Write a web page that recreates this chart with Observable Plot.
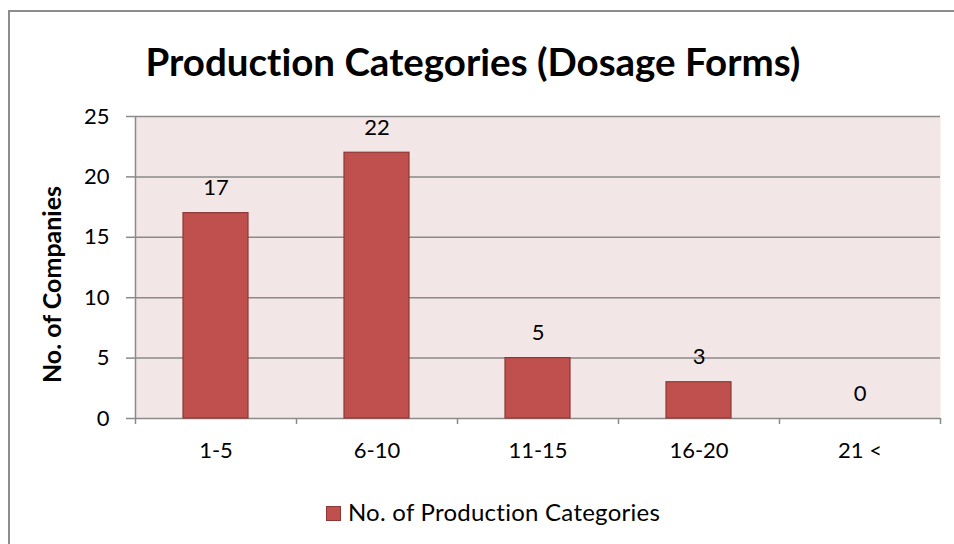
<!DOCTYPE html>
<html>
<head>
<meta charset="utf-8">
<script src="https://cdn.jsdelivr.net/npm/d3@7"></script>
<script src="https://cdn.jsdelivr.net/npm/@observablehq/plot@0.6"></script>
<style>
  html, body { margin: 0; padding: 0; background: #fff; }
  #frame {
    position: relative; width: 954px; height: 544px; overflow: hidden;
    font-family: Lato, "Open Sans", sans-serif; color: #000;
    font-variant-ligatures: none;
  }
  #border {
    position: absolute; left: 8px; top: 10px; width: 1000px; height: 600px;
    border: 2px solid #8c8c8c; box-sizing: border-box;
  }
  #title {
    position: absolute; left: -4px; top: 38px; width: 954px; text-align: center;
    font-size: 38.5px; font-weight: bold; line-height: 46px;
  }
  #chart { position: absolute; left: 0; top: 100px; }
  #chart svg { font-variant-ligatures: none; }
  #legend {
    position: absolute; left: 16px; top: 498px; width: 954px; text-align: center;
    font-size: 24px; letter-spacing: 0.25px; line-height: 28px;
  }
  #legend .swatch {
    display: inline-block; width: 13px; height: 13px; background: #c0504d;
    border: 1px solid #8c3836; vertical-align: 0px; margin-right: 7px;
  }
</style>
</head>
<body>
<div id="frame">
  <div id="border"></div>
  <div id="title">Production Categories (Dosage Forms)</div>
  <div id="chart"></div>
  <div id="legend"><span class="swatch"></span>No. of Production Categories</div>
</div>
<script>
// Number of companies by how many dosage-form production categories they run
const categories = ["1-5", "6-10", "11-15", "16-20", "21 <"];
const companies = [17, 22, 5, 3, 0];
const yTicks = [0, 5, 10, 15, 20, 25];
const yTitle = "No. of Companies";

const data = categories.map((c, i) => ({category: c, count: companies[i]}));

const width = 954;
const marginLeft = 135;
const marginRight = 14;
const half = (width - marginLeft - marginRight) / categories.length / 2;
const axisColor = "#8a8a8a";
const fs = 22;

const plot = Plot.plot({
  width,
  height: 360,
  marginTop: 16,
  marginBottom: 42,
  marginLeft,
  marginRight,
  style: {fontFamily: "Lato, 'Open Sans', sans-serif", fontSize: `${fs}px`, color: "#000", overflow: "visible"},
  x: {domain: categories, padding: 0, label: null},
  y: {domain: [0, 25], label: null},
  marks: [
    Plot.frame({fill: "#f2e6e6", stroke: null}),
    Plot.ruleY(yTicks, {stroke: axisColor, strokeWidth: 1.5}),
    Plot.axisY(yTicks, {tickSize: 9, tickPadding: 17, stroke: axisColor, strokeWidth: 1.5, fontSize: fs}),
    Plot.ruleX([0], {x: () => categories[0], dx: -half, stroke: axisColor, strokeWidth: 1.5, y1: 0, y2: 25}),
    Plot.text([yTitle], {
      frameAnchor: "left", textAnchor: "middle", rotate: -90, dx: -83, dy: 17,
      fontSize: 25, fontWeight: "bold", fill: "#000"
    }),
    Plot.barY(data, {
      x: "category", y: "count",
      insetLeft: 48, insetRight: 48,
      fill: "#c0504d", stroke: "#8c3836", strokeWidth: 1.2
    }),
    Plot.text(data, {
      x: "category", y: "count", text: d => String(d.count),
      dy: -25, fontSize: fs, fill: "#000"
    }),
    // category boundaries carry the tick marks
    Plot.axisX(categories, {tickSize: 6, dx: -half, text: null, stroke: axisColor, strokeWidth: 1.5}),
    Plot.axisX([categories[categories.length - 1]], {tickSize: 6, dx: half, text: null, stroke: axisColor, strokeWidth: 1.5}),
    Plot.axisX(categories, {tickSize: 0, tickPadding: 24, fontSize: fs})
  ]
});

document.getElementById("chart").appendChild(plot);
</script>
</body>
</html>
